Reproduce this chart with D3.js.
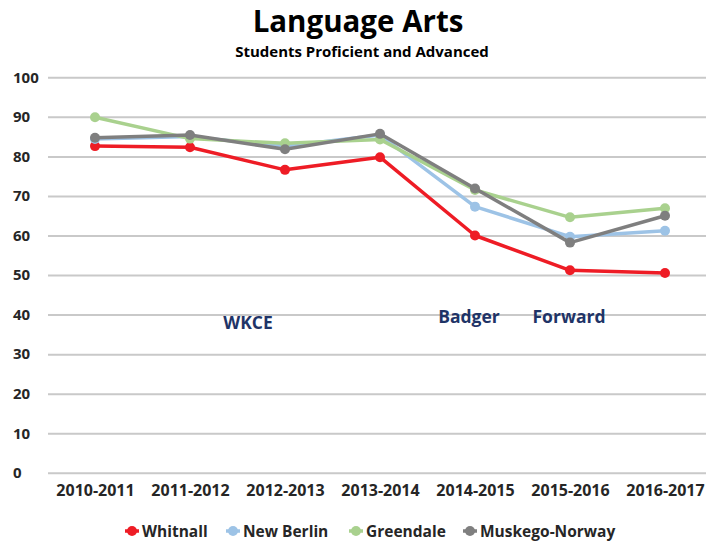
<!DOCTYPE html>
<html>
<head>
<meta charset="utf-8">
<script src="https://cdn.jsdelivr.net/npm/d3@7"></script>
<style>
  body { margin: 0; background: #fff; }
  text { font-family: "Open Sans", sans-serif; font-weight: bold; }
</style>
</head>
<body>
<script>
// chart data
var years = ["2010-2011", "2011-2012", "2012-2013", "2013-2014", "2014-2015", "2015-2016", "2016-2017"];
var schools = ["Whitnall", "New Berlin", "Greendale", "Muskego-Norway"];
var whitnall = [82.6, 82.3, 76.6, 79.8, 60.0, 51.2, 50.5];
var newBerlin = [84.4, 85.0, 82.6, 85.4, 67.3, 59.7, 61.2];
var greendale = [89.9, 84.5, 83.3, 84.3, 71.5, 64.6, 66.9];
var muskego = [84.7, 85.4, 81.8, 85.7, 71.9, 58.2, 65.0];
var yTicks = [0, 10, 20, 30, 40, 50, 60, 70, 80, 90, 100];
var colors = ["#ee1c25", "#9dc3e6", "#a9d18e", "#7f7f7f"];

var width = 706,
    height = 541;

var svg = d3.select("body").append("svg")
    .attr("width", width)
    .attr("height", height);

var x = d3.scalePoint()
    .domain(years)
    .range([47.5, 712.5])
    .padding(0.5);

var y = d3.scaleLinear()
    .domain([0, 100])
    .range([472.8, 77.3]);

// title
svg.append("text")
    .attr("x", 358).attr("y", 32)
    .attr("text-anchor", "middle")
    .style("font-size", "29.5px")
    .attr("fill", "#000")
    .text("Language Arts");

svg.append("text")
    .attr("x", 362).attr("y", 57)
    .attr("text-anchor", "middle")
    .style("font-size", "15px")
    .attr("fill", "#000")
    .text("Students Proficient and Advanced");

// gridlines + y labels
var yAxis = d3.axisLeft(y).tickValues(yTicks).tickSize(-658).tickPadding(6);
var gy = svg.append("g")
    .attr("transform", "translate(48,0)")
    .call(yAxis);
gy.select(".domain").remove();
gy.selectAll(".tick line").attr("stroke", "#c9c9c9").attr("stroke-width", 2);
gy.selectAll(".tick text")
    .attr("x", -35)
    .attr("text-anchor", "start")
    .style("font-size", "15px")
    .style("font-family", "'Open Sans', sans-serif")
    .attr("fill", "#262626");

// x labels
var xAxis = d3.axisBottom(x).tickSize(0).tickPadding(12);
var gx = svg.append("g")
    .attr("transform", "translate(0," + y(0) + ")")
    .call(xAxis);
gx.select(".domain").remove();
gx.selectAll(".tick text")
    .style("font-size", "16px")
    .style("font-family", "'Open Sans', sans-serif")
    .attr("fill", "#262626");

// annotations
var notes = [
  { label: "WKCE", at: "2012-2013", dx: -37, v: 36.4 },
  { label: "Badger", at: "2014-2015", dx: -6, v: 37.9 },
  { label: "Forward", at: "2015-2016", dx: -1, v: 37.9 }
];
svg.selectAll(".note").data(notes).enter().append("text")
    .attr("class", "note")
    .attr("x", function(d) { return x(d.at) + d.dx; })
    .attr("y", function(d) { return y(d.v); })
    .attr("text-anchor", "middle")
    .style("font-size", "17.5px")
    .attr("fill", "#1f3467")
    .text(function(d) { return d.label; });

// lines
var series = [whitnall, newBerlin, greendale, muskego];
var line = d3.line()
    .x(function(d, i) { return x(years[i]); })
    .y(function(d) { return y(d); });

series.forEach(function(vals, k) {
    var g = svg.append("g");
    g.append("path")
        .datum(vals)
        .attr("d", line)
        .attr("fill", "none")
        .attr("stroke", colors[k])
        .attr("stroke-width", 3.5)
        .attr("stroke-linejoin", "round");
    g.selectAll("circle").data(vals).enter().append("circle")
        .attr("cx", function(d, i) { return x(years[i]); })
        .attr("cy", function(d) { return y(d); })
        .attr("r", 5)
        .attr("fill", colors[k]);
});

// legend
var legX = [132, 233, 356, 470];
var leg = svg.selectAll(".leg").data(schools).enter().append("g")
    .attr("class", "leg")
    .attr("transform", function(d, i) { return "translate(" + legX[i] + ",531)"; });
leg.append("line")
    .attr("x1", -7).attr("x2", 7)
    .attr("stroke", function(d, i) { return colors[i]; })
    .attr("stroke-width", 3.5);
leg.append("circle")
    .attr("r", 5)
    .attr("fill", function(d, i) { return colors[i]; });
leg.append("text")
    .attr("x", 10).attr("y", 5.5)
    .style("font-size", "15.5px")
    .attr("fill", "#262626")
    .text(function(d) { return d; });
</script>
</body>
</html>
